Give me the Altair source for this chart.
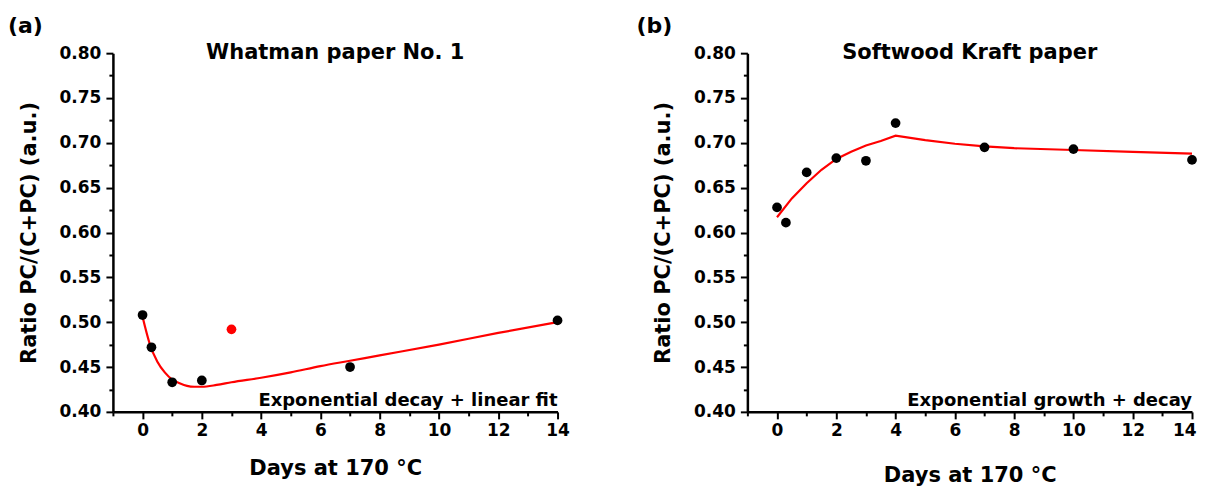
import altair as alt
import pandas as pd

# ---- data ----
a_days = [0, 0.3, 1, 2, 7, 14]
a_ratio = [0.508, 0.472, 0.433, 0.435, 0.450, 0.502]
a_excl_days = [3]
a_excl_ratio = [0.492]
a_fit_days = [0, 0.25, 0.5, 0.75, 1, 1.25, 1.5, 1.75, 2, 2.5, 3, 4, 5, 6, 7, 8, 10, 12, 14]
a_fit_ratio = [0.506, 0.475, 0.456, 0.444, 0.436, 0.432, 0.429, 0.428, 0.428, 0.430,
               0.433, 0.438, 0.444, 0.451, 0.457, 0.463, 0.475, 0.488, 0.500]

b_days = [0, 0.3, 1, 2, 3, 4, 7, 10, 14]
b_ratio = [0.628, 0.611, 0.667, 0.683, 0.680, 0.722, 0.695, 0.693, 0.681]
b_fit_days = [0, 0.5, 1, 1.5, 2, 2.5, 3, 3.5, 4, 5, 6, 7, 8, 10, 12, 14]
b_fit_ratio = [0.617, 0.638, 0.655, 0.670, 0.682, 0.690, 0.697, 0.702, 0.708,
               0.703, 0.699, 0.696, 0.694, 0.692, 0.690, 0.688]

x_major = [0, 2, 4, 6, 8, 10, 12, 14]
x_minor = [-1, 1, 3, 5, 7, 9, 11, 13]
y_major = [0.40, 0.45, 0.50, 0.55, 0.60, 0.65, 0.70, 0.75, 0.80]
y_minor = [0.425, 0.475, 0.525, 0.575, 0.625, 0.675, 0.725, 0.775]

FONT = "DejaVu Sans"
W, H = 445, 359
RED = "#ff0000"


def panel(tag, title, note, days, ratio, fit_days, fit_ratio, fit_interp,
          excl_days=None, excl_ratio=None, xtitle_pad=24, tag_dx=-105, flush=False):
    pts = pd.DataFrame({"day": days, "ratio": ratio})
    fit = pd.DataFrame({"day": fit_days, "ratio": fit_ratio})

    xscale = alt.Scale(domain=[-1, 14], nice=False, zero=False)
    yscale = alt.Scale(domain=[0.40, 0.80], nice=False, zero=False)

    xaxis = alt.Axis(
        title="Days at 170 °C", values=x_major, format="d", tickSize=7,
        labelOverlap=False, labelFlush=flush, labelFlushOffset=4 if flush else 0,
        labelPadding=4, titlePadding=xtitle_pad, grid=False, orient="bottom",
    )
    yaxis = alt.Axis(
        title="Ratio PC/(C+PC) (a.u.)", values=y_major, format=".2f", tickSize=7,
        labelOverlap=False, labelFlush=False, labelPadding=5,
        titlePadding=20, grid=False, orient="left",
    )
    xminor = alt.Axis(
        title=None, values=x_minor, labels=False, domain=False, tickSize=4,
        grid=False, orient="bottom",
    )
    yminor = alt.Axis(
        title=None, values=y_minor, labels=False, domain=False, tickSize=4,
        grid=False, orient="left",
    )

    line = alt.Chart(fit).mark_line(color=RED, strokeWidth=2.2, interpolate=fit_interp).encode(
        x=alt.X("day:Q", scale=xscale, axis=xaxis),
        y=alt.Y("ratio:Q", scale=yscale, axis=yaxis),
    )
    dots = alt.Chart(pts).mark_circle(color="black", opacity=1, size=95).encode(
        x=alt.X("day:Q", scale=xscale, axis=xminor),
        y=alt.Y("ratio:Q", scale=yscale, axis=yminor),
    )
    layers = [line, dots]
    if excl_days is not None:
        ex = pd.DataFrame({"day": excl_days, "ratio": excl_ratio})
        layers.append(
            alt.Chart(ex).mark_circle(color=RED, opacity=1, size=95).encode(
                x=alt.X("day:Q", scale=xscale, axis=None),
                y=alt.Y("ratio:Q", scale=yscale, axis=None),
            )
        )
    head = alt.Chart(pd.DataFrame({"t": [title]})).mark_text(
        font=FONT, fontWeight="bold", fontSize=21, baseline="middle", align="center"
    ).encode(text="t:N", x=alt.value(W / 2), y=alt.value(0))
    ann = alt.Chart(pd.DataFrame({"t": [note]})).mark_text(
        font=FONT, fontWeight="bold", fontSize=18, baseline="alphabetic",
        align="right", dy=-6
    ).encode(text="t:N", x=alt.value(W), y=alt.value(H))
    layers += [head, ann]

    return alt.layer(*layers).resolve_axis(x="independent", y="independent").properties(
        width=W, height=H,
        title=alt.TitleParams(
            tag, anchor="start", frame="group", dx=tag_dx, offset=4,
            font=FONT, fontSize=22, fontWeight="bold", color="black",
        ),
    )


pa = panel("(a)", "Whatman paper No. 1", "Exponential decay + linear fit",
           a_days, a_ratio, a_fit_days, a_fit_ratio, "monotone",
           a_excl_days, a_excl_ratio, xtitle_pad=19, tag_dx=-105)
pb = panel("(b)", "Softwood Kraft paper", "Exponential growth + decay",
           b_days, b_ratio, b_fit_days, b_fit_ratio, "linear",
           xtitle_pad=26, tag_dx=-111, flush=True)

chart = alt.hconcat(pa, pb, spacing=67).properties(
    padding={"left": 0, "top": 7, "right": 0, "bottom": 0}
).configure_view(stroke=None).configure_axis(
    domainColor="black", domainWidth=2.5, tickColor="black", tickWidth=2,
    labelColor="black", titleColor="black",
    labelFont=FONT, labelFontSize=17, labelFontWeight="bold",
    titleFont=FONT, titleFontSize=21, titleFontWeight="bold",
)

chart.save("out.html", embed_options={"renderer": "svg", "actions": False})
